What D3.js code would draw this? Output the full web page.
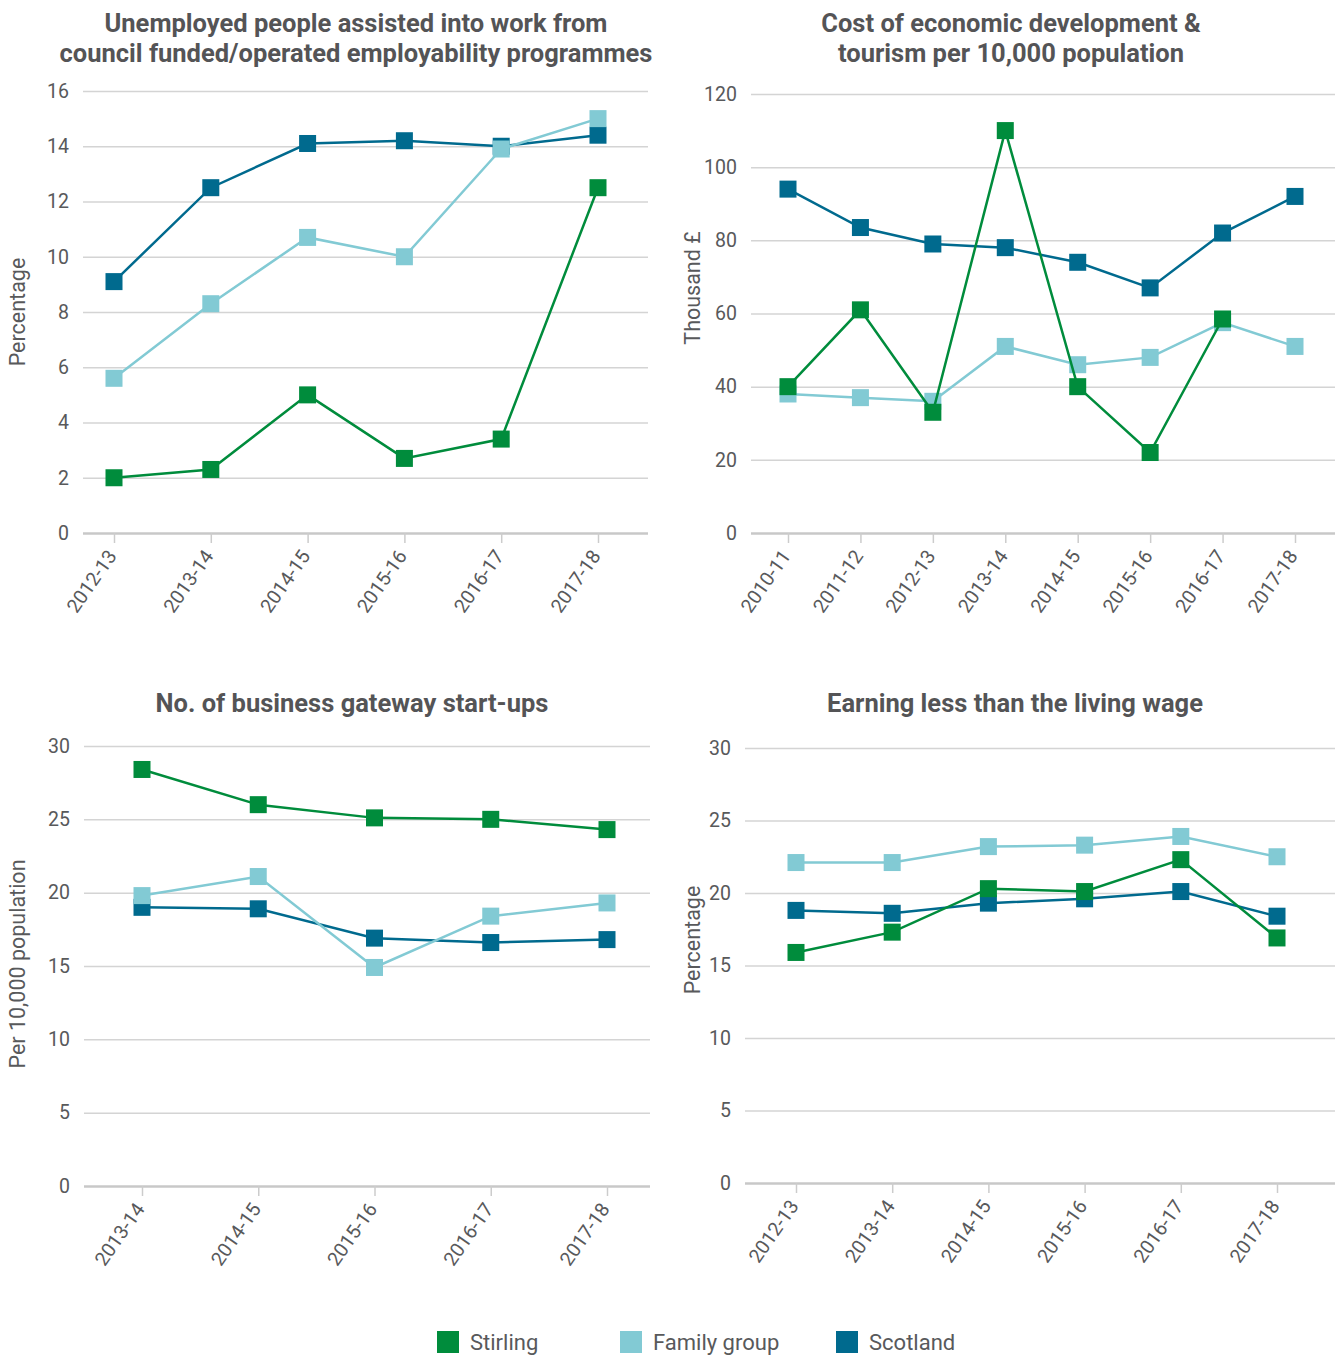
<!DOCTYPE html>
<html>
<head>
<meta charset="utf-8">
<script src="https://cdn.jsdelivr.net/npm/d3@7"></script>
<style>
    body { margin: 0; background: #fff; }
    svg { display: block; font-family: Roboto, "Open Sans", sans-serif; }
    .grid line { stroke: #d4d4d4; stroke-width: 1.5; }
    .grid text, .x-axis text { fill: #58595b; }
    .chart-title { fill: #545456; font-weight: bold; font-size: 25.5px; }
    .y-label { fill: #58595b; font-size: 21.5px; }
    .legend text { fill: #58595b; font-size: 22px; }
</style>
</head>
<body>
<div id="chart"></div>
<script>

// series names and colours
var seriesNames = ['Scotland', 'Family group', 'Stirling'];
var legendNames = ['Stirling', 'Family group', 'Scotland'];
var colours = {
    'Stirling': '#008c3c',
    'Family group': '#82cad4',
    'Scotland': '#006a8e'
};

// panel 1: unemployed people assisted into work
var years1 = ['2012-13', '2013-14', '2014-15', '2015-16', '2016-17', '2017-18'];
var stirling1 = [2.0, 2.3, 5.0, 2.7, 3.4, 12.5];
var family1 = [5.6, 8.3, 10.7, 10.0, 13.9, 15.0];
var scotland1 = [9.1, 12.5, 14.1, 14.2, 14.0, 14.4];
var ticks1 = [0, 2, 4, 6, 8, 10, 12, 14, 16];

// panel 2: cost of economic development & tourism
var years2 = ['2010-11', '2011-12', '2012-13', '2013-14', '2014-15', '2015-16', '2016-17', '2017-18'];
var stirling2 = [40, 61, 33, 110, 40, 22, 58.5, null];
var family2 = [38, 37, 36, 51, 46, 48, 57.5, 51];
var scotland2 = [94, 83.5, 79, 78, 74, 67, 82, 92];
var ticks2 = [0, 20, 40, 60, 80, 100, 120];

// panel 3: business gateway start-ups
var years3 = ['2013-14', '2014-15', '2015-16', '2016-17', '2017-18'];
var stirling3 = [28.4, 26.0, 25.1, 25.0, 24.3];
var family3 = [19.8, 21.1, 14.9, 18.4, 19.3];
var scotland3 = [19.0, 18.9, 16.9, 16.6, 16.8];
var ticks3 = [0, 5, 10, 15, 20, 25, 30];

// panel 4: earning less than the living wage
var years4 = ['2012-13', '2013-14', '2014-15', '2015-16', '2016-17', '2017-18'];
var stirling4 = [15.9, 17.3, 20.3, 20.1, 22.3, 16.9];
var family4 = [22.1, 22.1, 23.2, 23.3, 23.9, 22.5];
var scotland4 = [18.8, 18.6, 19.3, 19.6, 20.1, 18.4];
var ticks4 = [0, 5, 10, 15, 20, 25, 30];


class LinePanel {

    constructor(config) {

        this._config = config;
        this._markerSize = 17;
    }


    static getInstance(config) {

        return new LinePanel(config);
    }


    renderTo(svg) {

        var c = this._config;
        var box = c.box;

        var xScale = d3.scalePoint()
            .domain(c.categories)
            .range([box.xFirst, box.xLast]);

        var yScale = d3.scaleLinear()
            .domain([0, d3.max(c.ticks)])
            .range([box.bottom, box.top]);

        var g = svg.append('g').attr('class', 'panel');

        // title
        var title = g.append('text')
            .attr('class', 'chart-title')
            .attr('text-anchor', 'middle')
            .attr('x', box.titleX)
            .attr('y', box.titleY);

        c.title.forEach(function(line, i) {
            title.append('tspan')
                .attr('x', box.titleX)
                .attr('dy', i === 0 ? 0 : 30)
                .text(line);
        });

        // gridlines + y tick labels
        var grid = g.append('g')
            .attr('class', 'grid')
            .attr('transform', 'translate(' + [box.left, 0] + ')')
            .call(d3.axisLeft(yScale)
                .tickValues(c.ticks)
                .tickFormat(d3.format('d'))
                .tickSize(-(box.right - box.left))
                .tickPadding(14)
            );

        grid.select('.domain').remove();
        grid.selectAll('text')
            .attr('font-size', 19.5)
            .attr('font-family', 'Roboto, sans-serif');
        grid.selectAll('.tick')
            .filter(d => d === 0)
            .select('line')
            .style('stroke', '#c8c8c8')
            .style('stroke-width', 2.5);

        // x axis ticks + rotated labels
        var xAxis = g.append('g')
            .attr('class', 'x-axis')
            .attr('transform', 'translate(' + [0, box.bottom] + ')')
            .call(d3.axisBottom(xScale)
                .tickSize(10)
            );

        xAxis.select('.domain').remove();
        xAxis.selectAll('line')
            .style('stroke', '#cccccc')
            .style('stroke-width', 1.5);
        xAxis.selectAll('text')
            .attr('font-size', 19.5)
            .attr('font-family', 'Roboto, sans-serif')
            .attr('text-anchor', 'end')
            .attr('dy', 0)
            .attr('transform', 'translate(3,23) rotate(-55)')
            .attr('y', 0)
            .attr('x', 0);

        // y axis label
        g.append('text')
            .attr('class', 'y-label')
            .attr('text-anchor', 'middle')
            .attr('transform', 'translate(' + [box.yLabelX, box.yLabelY] + ') rotate(-90)')
            .text(c.yLabel);

        // series
        var line = d3.line()
            .defined(d => d.value != null)
            .x(d => xScale(d.cat))
            .y(d => yScale(d.value));

        var size = this._markerSize;

        seriesNames.forEach(function(name) {

            var points = c.categories.map(function(cat, i) {
                return { cat: cat, value: c.series[name][i] };
            });

            var s = g.append('g').attr('class', 'series');

            s.append('path')
                .datum(points)
                .attr('fill', 'none')
                .attr('stroke', colours[name])
                .attr('stroke-width', 2.5)
                .attr('d', line);

            s.selectAll('rect')
                .data(points.filter(d => d.value != null))
                .enter()
                .append('rect')
                .attr('x', d => xScale(d.cat) - size / 2)
                .attr('y', d => yScale(d.value) - size / 2)
                .attr('width', size)
                .attr('height', size)
                .attr('fill', colours[name]);
        });

        return this;
    }
}


var svg = d3.select('#chart')
    .append('svg')
    .attr('width', 1335)
    .attr('height', 1356);

LinePanel.getInstance({
    title: ['Unemployed people assisted into work from', 'council funded/operated employability programmes'],
    yLabel: 'Percentage',
    categories: years1,
    ticks: ticks1,
    series: { 'Stirling': stirling1, 'Family group': family1, 'Scotland': scotland1 },
    box: { left: 83, right: 648, top: 91, bottom: 533, xFirst: 114, xLast: 598,
        titleX: 356, titleY: 32, yLabelX: 25, yLabelY: 312 }
}).renderTo(svg);

LinePanel.getInstance({
    title: ['Cost of economic development &', 'tourism per 10,000 population'],
    yLabel: 'Thousand £',
    categories: years2,
    ticks: ticks2,
    series: { 'Stirling': stirling2, 'Family group': family2, 'Scotland': scotland2 },
    box: { left: 751, right: 1335, top: 94, bottom: 533, xFirst: 788, xLast: 1295,
        titleX: 1011, titleY: 32, yLabelX: 700, yLabelY: 288 }
}).renderTo(svg);

LinePanel.getInstance({
    title: ['No. of business gateway start-ups'],
    yLabel: 'Per 10,000 population',
    categories: years3,
    ticks: ticks3,
    series: { 'Stirling': stirling3, 'Family group': family3, 'Scotland': scotland3 },
    box: { left: 84, right: 650, top: 746, bottom: 1186, xFirst: 142, xLast: 607,
        titleX: 352, titleY: 712, yLabelX: 25, yLabelY: 964 }
}).renderTo(svg);

LinePanel.getInstance({
    title: ['Earning less than the living wage'],
    yLabel: 'Percentage',
    categories: years4,
    ticks: ticks4,
    series: { 'Stirling': stirling4, 'Family group': family4, 'Scotland': scotland4 },
    box: { left: 745, right: 1335, top: 748, bottom: 1183, xFirst: 796, xLast: 1277,
        titleX: 1015, titleY: 712, yLabelX: 700, yLabelY: 940 }
}).renderTo(svg);

// legend
var legendX = d3.scaleOrdinal()
    .domain(legendNames)
    .range([437, 620, 836]);

var legend = svg.append('g')
    .attr('class', 'legend')
    .selectAll('g')
    .data(legendNames)
    .enter()
    .append('g')
    .attr('transform', d => 'translate(' + [legendX(d), 1331] + ')');

legend.append('rect')
    .attr('width', 22)
    .attr('height', 22)
    .attr('fill', d => colours[d]);

legend.append('text')
    .attr('x', 33)
    .attr('y', 19)
    .text(d => d);

</script>
</body>
</html>
